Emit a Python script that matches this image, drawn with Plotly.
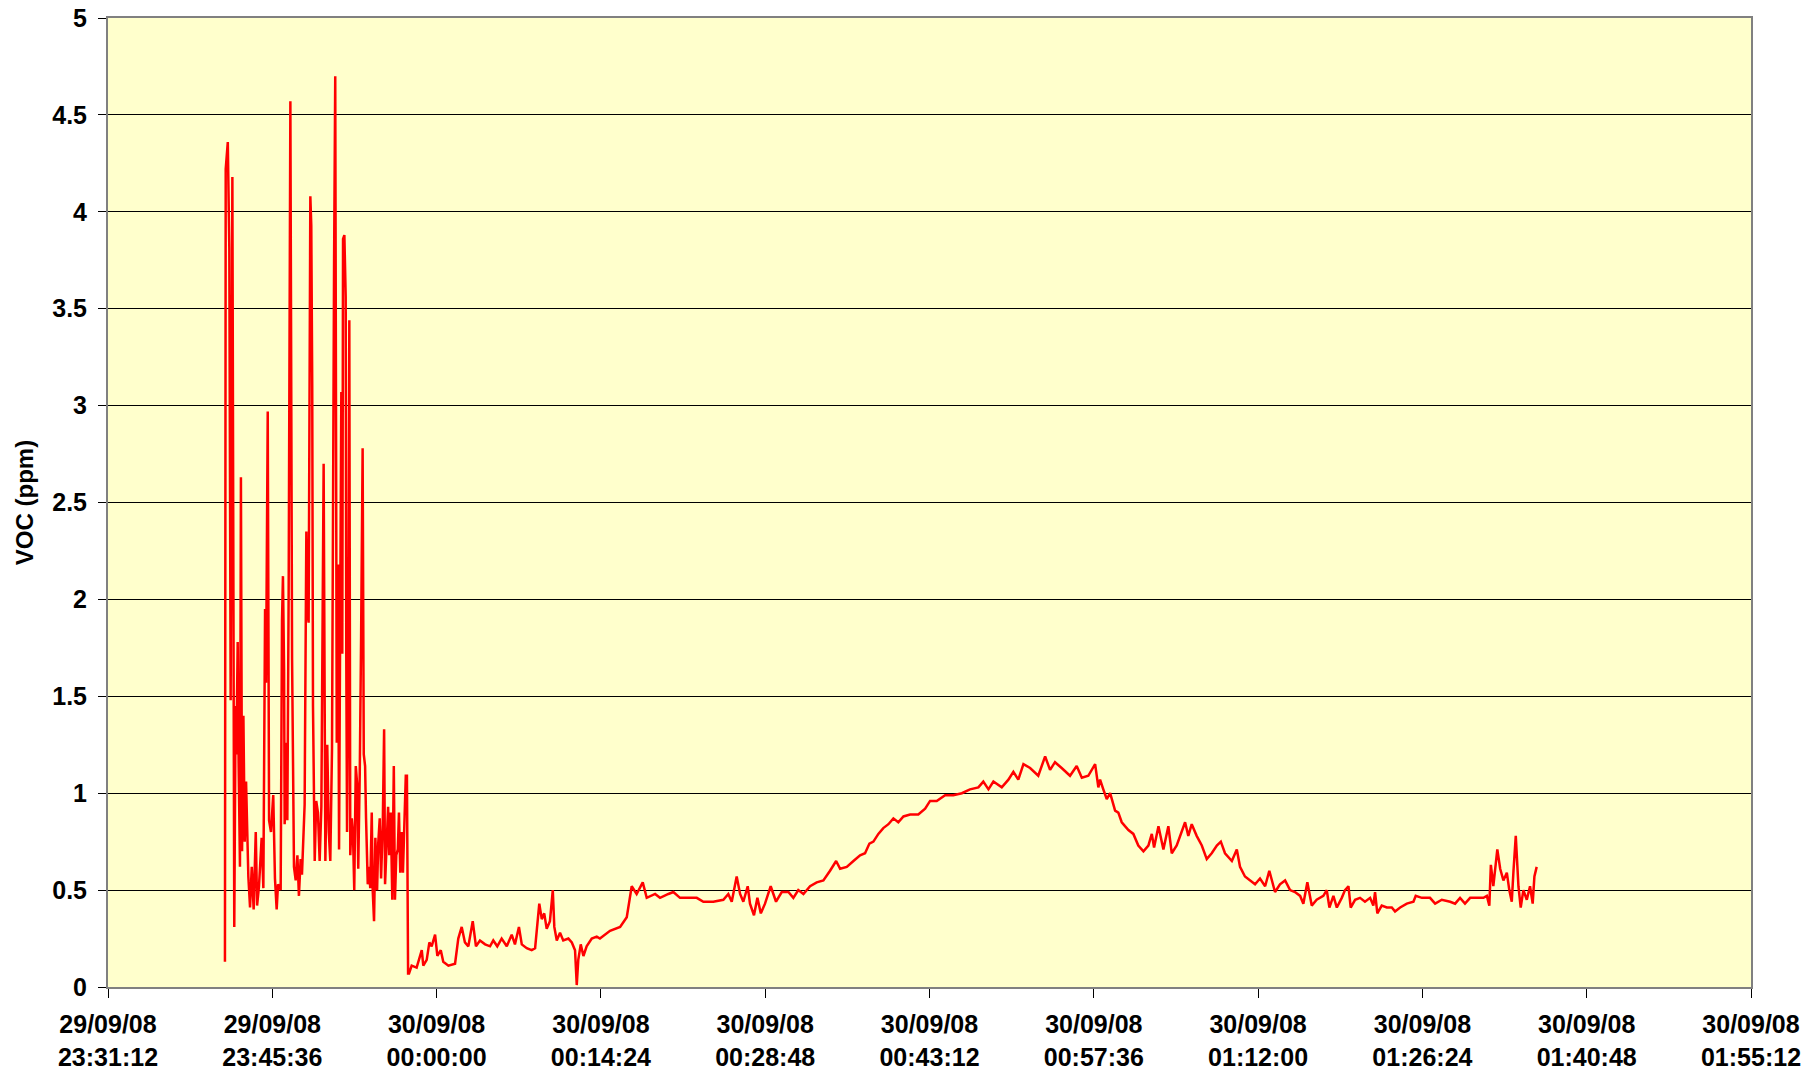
import pandas as pd
import plotly.graph_objects as go

# logger run start (left edge of the time axis)
START = pd.Timestamp("2008-09-29 23:31:12")

# burst of readings at the start of the run: seconds after START, VOC in ppm
burst_sec = [615, 619, 630, 638, 645, 654, 664, 671, 675, 682, 687, 694, 699, 705,
             712, 719, 726, 738, 747, 756, 766, 777, 784, 794, 808, 817, 826, 831,
             840, 847, 857, 869, 878, 887, 894, 908, 915, 920, 926, 929, 938, 943,
             950, 959, 968, 973, 978, 987, 996, 1004, 1013, 1020, 1034, 1043, 1048,
             1055, 1064, 1069, 1074, 1078, 1083, 1087, 1095, 1104, 1113, 1122, 1134,
             1143, 1153, 1161, 1169, 1178, 1189, 1195, 1203, 1210, 1215, 1222, 1227,
             1232, 1236, 1243, 1250, 1253, 1257, 1264, 1269, 1274, 1282, 1288, 1295,
             1303, 1310, 1316, 1324, 1331, 1339, 1345, 1352, 1357, 1366, 1373, 1379,
             1387, 1392, 1399, 1406, 1415, 1421, 1429, 1436, 1445, 1452, 1457, 1464,
             1473, 1479, 1487, 1495, 1503, 1509, 1516, 1524, 1530, 1537, 1545, 1551,
             1558, 1566, 1572, 1578, 1583]
burst_ppm = [0.13, 4.22, 4.36, 3.81, 1.48, 4.18, 0.31, 1.45, 1.20, 1.78, 1.15, 0.62, 2.63, 0.70,
             1.40, 0.75, 1.06, 0.57, 0.41, 0.62, 0.40, 0.80, 0.42, 0.52, 0.77, 0.51, 1.95, 1.57,
             2.97, 0.86, 0.80, 0.99, 0.56, 0.40, 0.53, 0.50, 1.89, 2.12, 1.63, 0.84, 1.26, 0.86,
             2.03, 4.57, 1.69, 1.04, 0.62, 0.55, 0.68, 0.47, 0.66, 0.58, 0.94, 2.35, 1.94,
             1.88, 4.08, 3.93, 3.10, 1.45, 0.74, 0.65, 0.96, 0.90, 0.65, 0.93, 2.70,
             0.65, 1.25, 0.80, 0.65, 1.23, 3.76, 4.70, 1.26, 2.18, 0.71, 2.52, 3.07,
             1.72, 3.86, 3.88, 3.56, 1.72, 0.80, 1.72, 3.44, 0.68, 0.87, 0.80, 0.50,
             1.14, 1.05, 0.61, 1.11, 1.81, 2.78, 1.20, 1.14, 0.87, 0.53, 0.62, 0.51,
             0.90, 0.50, 0.34, 0.77, 0.50, 0.74, 0.87, 0.56, 0.84, 1.33, 0.53, 0.71,
             0.93, 0.68, 0.90, 0.45, 1.14, 0.45, 0.68, 0.71, 0.90, 0.59, 0.80, 0.59,
             0.84, 1.09, 1.09, 0.07, 0.07]

# low background after the burst
low_sec = [1597, 1623, 1650, 1658, 1676, 1690, 1702, 1720, 1732, 1750, 1763, 1790, 1825,
           1842, 1860, 1877, 1895, 1918, 1935, 1956, 1983, 2009, 2026, 2047, 2070, 2097,
           2123, 2140, 2161, 2176, 2202, 2228, 2246, 2268, 2281, 2294, 2307, 2324, 2339,
           2347, 2360, 2377, 2394, 2421, 2439, 2456, 2465, 2473, 2486, 2500, 2517, 2544,
           2570, 2587, 2640, 2693, 2728]
low_ppm = [0.11, 0.10, 0.19, 0.11, 0.14, 0.23, 0.21, 0.27, 0.16, 0.19, 0.13, 0.11, 0.12,
           0.25, 0.31, 0.23, 0.21, 0.34, 0.21, 0.24, 0.22, 0.21, 0.24, 0.21, 0.25, 0.21,
           0.27, 0.22, 0.31, 0.22, 0.20, 0.19, 0.20, 0.43, 0.35, 0.38, 0.30, 0.34, 0.50,
           0.31, 0.24, 0.28, 0.24, 0.25, 0.23, 0.19, 0.01, 0.14, 0.22, 0.16, 0.21, 0.25,
           0.26, 0.25, 0.29, 0.31, 0.36]

# plateau, slow rise to the hump and its top
hump_sec = [2754, 2780, 2812, 2833, 2877, 2903, 2947, 2973, 3008, 3043, 3096, 3131, 3183,
            3236, 3262, 3280, 3306, 3324, 3341, 3364, 3376, 3397, 3415, 3433, 3455, 3485,
            3513, 3543, 3578, 3604, 3630, 3657, 3692, 3727, 3762, 3797, 3829, 3850, 3885,
            3920, 3955, 3981, 4004, 4025, 4051, 4077, 4104, 4130, 4156, 4183, 4218, 4261,
            4297, 4323, 4358, 4402, 4445, 4490, 4533, 4577, 4603, 4630, 4656, 4700, 4735,
            4761, 4787, 4814, 4849, 4892, 4928, 4954, 4980, 5015, 5059, 5094, 5121, 5155,
            5191, 5208]
hump_ppm = [0.52, 0.48, 0.54, 0.46, 0.48, 0.46, 0.48, 0.49, 0.46, 0.46, 0.46, 0.44, 0.44,
            0.45, 0.48, 0.44, 0.57, 0.48, 0.44, 0.52, 0.43, 0.37, 0.46, 0.38, 0.43, 0.52,
            0.44, 0.49, 0.49, 0.46, 0.50, 0.48, 0.52, 0.54, 0.55, 0.60, 0.65, 0.61, 0.62,
            0.65, 0.68, 0.69, 0.74, 0.75, 0.79, 0.82, 0.84, 0.87, 0.85, 0.88, 0.89, 0.89,
            0.92, 0.96, 0.96, 0.99, 0.99, 1.00, 1.02, 1.03, 1.06, 1.02, 1.06, 1.03, 1.07,
            1.11, 1.07, 1.15, 1.13, 1.09, 1.19, 1.12, 1.16, 1.13, 1.09, 1.14, 1.08, 1.09,
            1.15, 1.03]

# decay after the hump
decay_sec = [5217, 5234, 5252, 5270, 5296, 5313, 5331, 5348, 5366, 5392, 5418, 5445, 5471,
             5489, 5501, 5524, 5550, 5576, 5594, 5620, 5638, 5664, 5681, 5699, 5725, 5752,
             5778, 5804, 5831, 5852, 5874, 5910, 5936, 5953, 5979, 6006, 6032, 6058, 6085,
             6107, 6137, 6163, 6190, 6216, 6242]
decay_ppm = [1.07, 1.02, 0.97, 1.00, 0.91, 0.90, 0.85, 0.83, 0.81, 0.79, 0.73, 0.70, 0.73,
             0.79, 0.72, 0.83, 0.71, 0.83, 0.69, 0.73, 0.78, 0.85, 0.78, 0.84, 0.78, 0.73,
             0.66, 0.69, 0.73, 0.75, 0.69, 0.65, 0.71, 0.62, 0.57, 0.55, 0.53, 0.56, 0.52,
             0.60, 0.49, 0.53, 0.55, 0.50, 0.49]

# flat end of the run with the last small burst
end_sec = [6269, 6286, 6307, 6330, 6356, 6391, 6409, 6423, 6444, 6462, 6488, 6505, 6523,
           6535, 6558, 6584, 6610, 6637, 6654, 6663, 6675, 6698, 6725, 6751, 6768, 6795,
           6830, 6865, 6877, 6909, 6952, 6979, 7014, 7058, 7084, 7110, 7136, 7163, 7198,
           7233, 7251, 7264, 7272, 7285, 7306, 7321, 7338, 7356, 7369, 7382, 7391, 7403,
           7417, 7429, 7443, 7461, 7478, 7492, 7501, 7513]
end_ppm = [0.47, 0.43, 0.54, 0.42, 0.45, 0.47, 0.50, 0.41, 0.47, 0.41, 0.46, 0.50, 0.52,
           0.41, 0.45, 0.46, 0.44, 0.46, 0.42, 0.49, 0.38, 0.42, 0.41, 0.41, 0.39, 0.41,
           0.43, 0.44, 0.47, 0.46, 0.46, 0.43, 0.45, 0.44, 0.43, 0.46, 0.43, 0.46, 0.46,
           0.46, 0.47, 0.42, 0.63, 0.52, 0.71, 0.61, 0.55, 0.59, 0.50, 0.44, 0.60, 0.78,
           0.52, 0.41, 0.50, 0.45, 0.52, 0.43, 0.57, 0.62]

tick_labels = ["29/09/08<br>23:31:12", "29/09/08<br>23:45:36", "30/09/08<br>00:00:00",
               "30/09/08<br>00:14:24", "30/09/08<br>00:28:48", "30/09/08<br>00:43:12",
               "30/09/08<br>00:57:36", "30/09/08<br>01:12:00", "30/09/08<br>01:26:24",
               "30/09/08<br>01:40:48", "30/09/08<br>01:55:12"]
TICK_STEP = 864  # seconds between axis labels

secs = burst_sec + low_sec + hump_sec + decay_sec + end_sec
ppm = burst_ppm + low_ppm + hump_ppm + decay_ppm + end_ppm
times = START + pd.to_timedelta(secs, unit="s")
tick_vals = [START + pd.Timedelta(seconds=TICK_STEP * i) for i in range(len(tick_labels))]

FONT = "Liberation Sans, Arial, sans-serif"

fig = go.Figure()
fig.add_trace(go.Scatter(x=times, y=ppm, mode="lines", name="VOC",
                         line=dict(color="#FF0000", width=2.5)))

fig.update_layout(
    width=1820, height=1074,
    margin=dict(l=108, r=69, t=18, b=87),
    paper_bgcolor="white", plot_bgcolor="#FFFFCC",
    showlegend=False,
    font=dict(family=FONT, size=25, color="black"),
)
fig.update_xaxes(
    range=[tick_vals[0], tick_vals[-1]],
    tickvals=tick_vals, ticktext=tick_labels,
    tickfont=dict(family=FONT, size=25, weight="bold"),
    ticks="outside", ticklen=9, tickcolor="black", tickwidth=1,
    ticklabelstandoff=5, ticklabeloverflow="allow",
    showgrid=False, zeroline=False,
    showline=True, linecolor="#808080", linewidth=2, mirror=True,
    automargin=False,
)
fig.update_yaxes(
    range=[0, 5], dtick=0.5, tick0=0,
    tickfont=dict(family=FONT, size=25, weight="bold"),
    ticks="outside", ticklen=8, tickcolor="black", tickwidth=1,
    ticklabelstandoff=6, ticklabeloverflow="allow",
    showgrid=True, gridcolor="black", gridwidth=1,
    zeroline=False,
    showline=True, linecolor="#808080", linewidth=2, mirror=True,
    title=dict(text="VOC (ppm)", font=dict(family=FONT, size=24, weight="bold"),
               standoff=12),
    automargin=False,
)

# drop the browser's default 8px body margin so the figure sits at the page corner
fig.write_html("out.html", config={"displayModeBar": False},
               post_script="document.body.style.margin = '0';")
